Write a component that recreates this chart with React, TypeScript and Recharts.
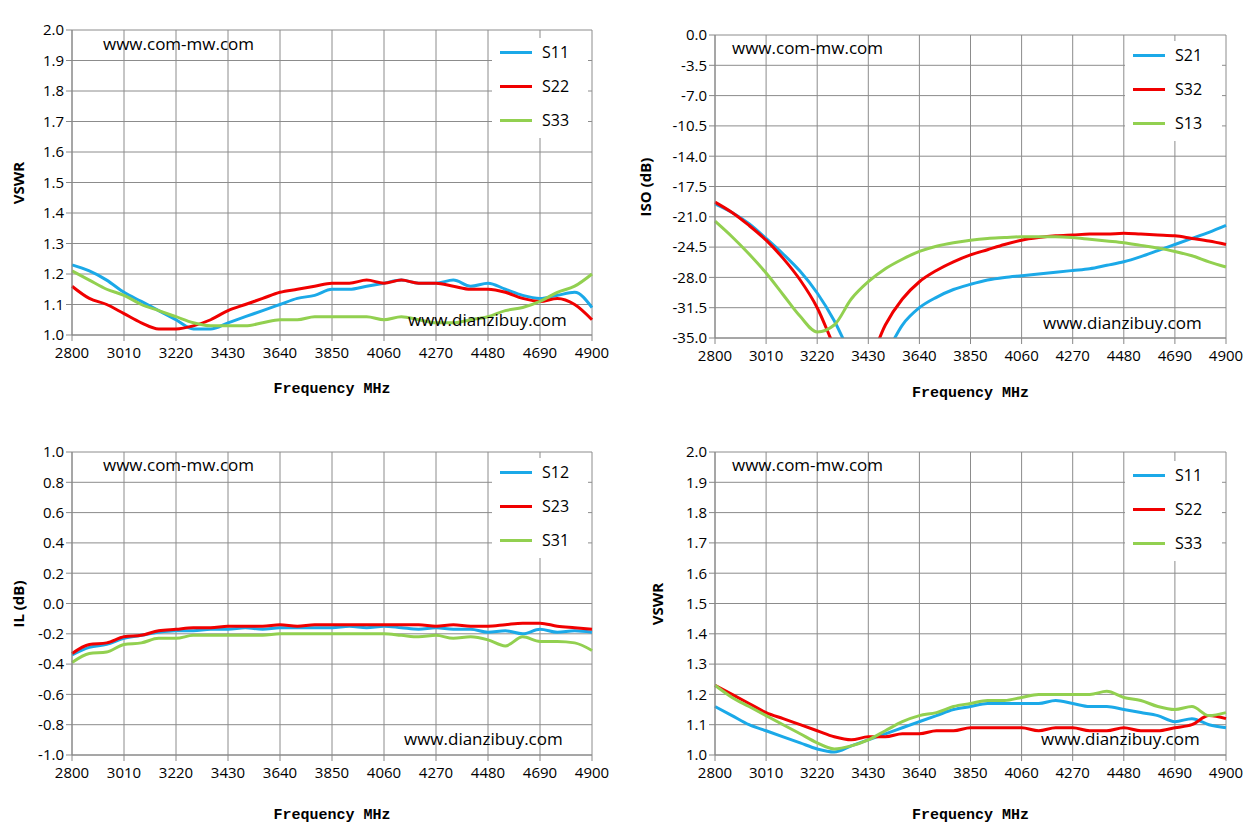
import React from "react";
import { LineChart, Line, XAxis, YAxis, CartesianGrid } from "recharts";

const FREQ = [
  2800, 2870, 2940, 3010, 3080, 3150, 3220, 3290, 3360, 3430, 3500, 3570, 3640, 3710, 3780, 3850,
  3920, 3990, 4060, 4130, 4200, 4270, 4340, 4410, 4480, 4550, 4620, 4690, 4760, 4830, 4900,
];
const X_TICKS = [2800, 3010, 3220, 3430, 3640, 3850, 4060, 4270, 4480, 4690, 4900];

const VSWR_TICKS = [1.0, 1.1, 1.2, 1.3, 1.4, 1.5, 1.6, 1.7, 1.8, 1.9, 2.0];
const ISO_TICKS = [0, -3.5, -7, -10.5, -14, -17.5, -21, -24.5, -28, -31.5, -35];
const IL_TICKS = [-1, -0.8, -0.6, -0.4, -0.2, 0, 0.2, 0.4, 0.6, 0.8, 1];

// panel 1
const A_S11 = [1.23,1.21,1.18,1.14,1.11,1.08,1.05,1.02,1.02,1.04,1.06,1.08,1.10,1.12,1.13,1.15,1.15,1.16,1.17,1.18,1.17,1.17,1.18,1.16,1.17,1.15,1.13,1.12,1.13,1.14,1.09];
const A_S22 = [1.16,1.12,1.10,1.07,1.04,1.02,1.02,1.03,1.05,1.08,1.10,1.12,1.14,1.15,1.16,1.17,1.17,1.18,1.17,1.18,1.17,1.17,1.16,1.15,1.15,1.14,1.12,1.11,1.12,1.10,1.05];
const A_S33 = [1.21,1.18,1.15,1.13,1.10,1.08,1.06,1.04,1.03,1.03,1.03,1.04,1.05,1.05,1.06,1.06,1.06,1.06,1.05,1.06,1.05,1.04,1.04,1.05,1.06,1.08,1.09,1.11,1.14,1.16,1.20];
// panel 2
const B_S21 = [-19.5,-20.5,-21.8,-23.5,-25.3,-27.3,-29.8,-33,-37,-40,-37,-33.5,-31.5,-30.3,-29.4,-28.8,-28.3,-28,-27.8,-27.6,-27.4,-27.2,-27,-26.6,-26.2,-25.6,-24.9,-24.2,-23.5,-22.8,-22];
const B_S32 = [-19.3,-20.5,-22,-23.7,-25.8,-28.3,-31.5,-36,-40,-38,-33.5,-30.5,-28.5,-27.2,-26.2,-25.4,-24.8,-24.2,-23.7,-23.4,-23.2,-23.1,-23,-23,-22.9,-23,-23.1,-23.2,-23.5,-23.8,-24.2];
const B_S13 = [-21.5,-23.3,-25.3,-27.5,-30,-32.5,-34.3,-33.5,-30.5,-28.5,-27,-25.9,-25,-24.4,-24,-23.7,-23.5,-23.4,-23.3,-23.3,-23.3,-23.4,-23.6,-23.8,-24,-24.3,-24.6,-25,-25.5,-26.2,-26.8];
// panel 3
const C_S12 = [-0.34,-0.29,-0.27,-0.23,-0.21,-0.19,-0.18,-0.18,-0.17,-0.17,-0.16,-0.17,-0.16,-0.16,-0.16,-0.16,-0.15,-0.16,-0.15,-0.16,-0.17,-0.16,-0.17,-0.17,-0.19,-0.18,-0.2,-0.17,-0.19,-0.18,-0.19];
const C_S23 = [-0.33,-0.27,-0.26,-0.22,-0.21,-0.18,-0.17,-0.16,-0.16,-0.15,-0.15,-0.15,-0.14,-0.15,-0.14,-0.14,-0.14,-0.14,-0.14,-0.14,-0.14,-0.15,-0.14,-0.15,-0.15,-0.14,-0.13,-0.13,-0.15,-0.16,-0.17];
const C_S31 = [-0.39,-0.33,-0.32,-0.27,-0.26,-0.23,-0.23,-0.21,-0.21,-0.21,-0.21,-0.21,-0.2,-0.2,-0.2,-0.2,-0.2,-0.2,-0.2,-0.21,-0.22,-0.21,-0.23,-0.22,-0.24,-0.28,-0.22,-0.25,-0.25,-0.26,-0.31];
// panel 4
const D_S11 = [1.16,1.13,1.10,1.08,1.06,1.04,1.02,1.01,1.03,1.05,1.07,1.09,1.11,1.13,1.15,1.16,1.17,1.17,1.17,1.17,1.18,1.17,1.16,1.16,1.15,1.14,1.13,1.11,1.12,1.10,1.09];
const D_S22 = [1.23,1.20,1.17,1.14,1.12,1.10,1.08,1.06,1.05,1.06,1.06,1.07,1.07,1.08,1.08,1.09,1.09,1.09,1.09,1.08,1.09,1.09,1.08,1.08,1.09,1.08,1.08,1.09,1.10,1.13,1.12];
const D_S33 = [1.23,1.19,1.16,1.13,1.10,1.07,1.04,1.02,1.03,1.05,1.08,1.11,1.13,1.14,1.16,1.17,1.18,1.18,1.19,1.20,1.20,1.20,1.20,1.21,1.19,1.18,1.16,1.15,1.16,1.13,1.14];

const COLORS = ["#1ba9e8", "#f00000", "#92d050"];
const FONT = "'Open Sans', 'Liberation Sans', sans-serif";

type Box = { x0: number; x1: number; y0: number; y1: number };

function Panel({
  box, ticks, names, series, yLabel, labelX, titleY, legendX, legendY, wm1, wm2,
}: {
  box: Box; ticks: number[]; names: string[]; series: number[][]; yLabel: string;
  labelX: number; titleY: number; legendX: number; legendY: number;
  wm1: [number, number]; wm2: [number, number];
}) {
  const data = FREQ.map((f, i) => ({ f, a: series[0][i], b: series[1][i], c: series[2][i] }));
  const lo = Math.min(...ticks);
  const hi = Math.max(...ticks);
  const yw = 50;
  return (
    <>
      <div style={{ position: "absolute", left: 0, top: 0 }}>
        <LineChart
          width={1259}
          height={box.y1 + 40}
          data={data}
          margin={{ left: box.x0 - yw, right: 1259 - box.x1, top: box.y0, bottom: 10 }}
        >
          <CartesianGrid stroke="#8c8c8c" horizontalValues={ticks} verticalValues={X_TICKS} />
          <XAxis
            dataKey="f" type="number" domain={[2800, 4900]} ticks={X_TICKS} height={30} tickMargin={6}
            tick={{ fill: "#000", fontSize: 15, fontFamily: FONT }} axisLine={{ stroke: "#888" }}
            tickLine={{ stroke: "#888" }}
          />
          <YAxis
            type="number" domain={[lo, hi]} ticks={ticks} allowDataOverflow width={yw}
            tickFormatter={(v: number) => v.toFixed(1)}
            tick={{ fill: "#000", fontSize: 15, fontFamily: FONT }} axisLine={{ stroke: "#888" }}
            tickLine={{ stroke: "#888" }}
          />
          {["a", "b", "c"].map((k, i) => (
            <Line key={k} dataKey={k} type="monotone" stroke={COLORS[i]} strokeWidth={3}
              dot={false} isAnimationActive={false} />
          ))}
        </LineChart>
      </div>
      <div style={{ position: "absolute", left: labelX - 60, top: (box.y0 + box.y1) / 2 - 10, width: 120,
        textAlign: "center", transform: "rotate(-90deg)", fontFamily: FONT, fontWeight: "bold", fontSize: 15 }}>
        {yLabel}
      </div>
      <div style={{ position: "absolute", left: (box.x0 + box.x1) / 2 - 100, top: titleY - 10, width: 200,
        textAlign: "center", fontFamily: "'Liberation Mono', monospace", fontWeight: "bold", fontSize: 15 }}>
        Frequency MHz
      </div>
      <div style={{ position: "absolute", left: legendX - 8, top: legendY - 14, width: box.x1 - legendX + 4,
        height: 100, background: "#fff" }}>
        {names.map((n, i) => (
          <div key={n} style={{ position: "absolute", left: 8, top: i * 34, height: 28, display: "flex", alignItems: "center" }}>
            <div style={{ width: 32, height: 3, background: COLORS[i], marginRight: 10 }} />
            <span style={{ fontFamily: FONT, fontSize: 16 }}>{n}</span>
          </div>
        ))}
      </div>
      <div style={{ position: "absolute", left: wm1[0], top: wm1[1] - 12, fontFamily: FONT, fontSize: 17 }}>
        www.com-mw.com
      </div>
      <div style={{ position: "absolute", left: wm2[0], top: wm2[1] - 12, fontFamily: FONT, fontSize: 17 }}>
        www.dianzibuy.com
      </div>
    </>
  );
}

export default function App() {
  return (
    <div style={{ position: "absolute", left: 0, top: 0, width: 1259, height: 839, background: "#fff" }}>
      <Panel box={{ x0: 72, x1: 592, y0: 30, y1: 335 }} ticks={VSWR_TICKS} names={["S11", "S22", "S33"]}
        series={[A_S11, A_S22, A_S33]} yLabel="VSWR" labelX={18} titleY={391} legendX={500} legendY={52}
        wm1={[103, 44]} wm2={[408, 320]} />
      <Panel box={{ x0: 715, x1: 1226, y0: 35, y1: 338 }} ticks={ISO_TICKS} names={["S21", "S32", "S13"]}
        series={[B_S21, B_S32, B_S13]} yLabel="ISO (dB)" labelX={645} titleY={395} legendX={1133} legendY={55}
        wm1={[732, 48]} wm2={[1043, 323]} />
      <Panel box={{ x0: 72, x1: 592, y0: 452, y1: 755 }} ticks={IL_TICKS} names={["S12", "S23", "S31"]}
        series={[C_S12, C_S23, C_S31]} yLabel="IL (dB)" labelX={18} titleY={817} legendX={500} legendY={472}
        wm1={[103, 465]} wm2={[404, 739]} />
      <Panel box={{ x0: 715, x1: 1226, y0: 452, y1: 755 }} ticks={VSWR_TICKS} names={["S11", "S22", "S33"]}
        series={[D_S11, D_S22, D_S33]} yLabel="VSWR" labelX={657} titleY={817} legendX={1133} legendY={475}
        wm1={[732, 465]} wm2={[1041, 739]} />
    </div>
  );
}
